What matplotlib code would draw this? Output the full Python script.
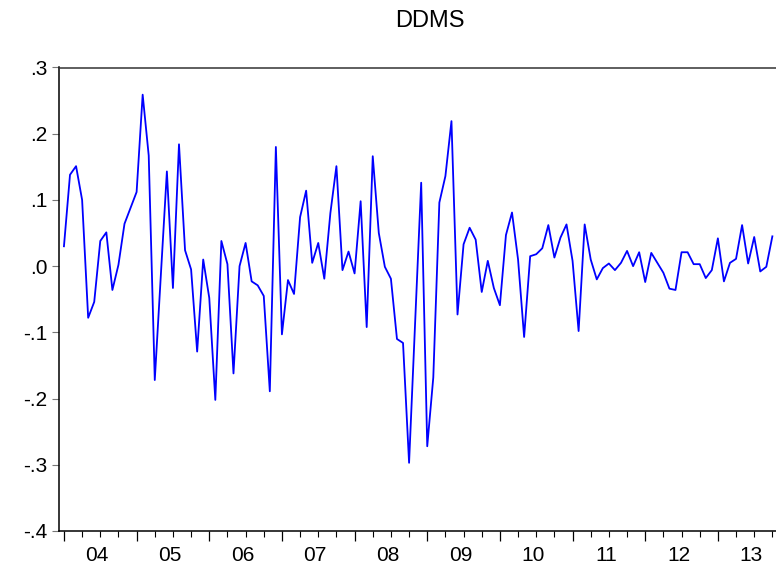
import matplotlib
matplotlib.use("Agg")
import matplotlib.pyplot as plt
import matplotlib.transforms as mtransforms

# monthly values, 2004M01 onwards
ddms = [0.030, 0.138, 0.151, 0.100, -0.078, -0.054, 0.038, 0.051, -0.036, 0.002, 0.064, 0.088,
        0.112, 0.259, 0.167, -0.172, -0.014, 0.143, -0.033, 0.184, 0.024, -0.005, -0.129, 0.010,
        -0.048, -0.202, 0.038, 0.003, -0.162, 0.000, 0.035, -0.023, -0.029, -0.045, -0.189, 0.180,
        -0.103, -0.021, -0.042, 0.074, 0.114, 0.005, 0.035, -0.019, 0.080, 0.151, -0.006, 0.022,
        -0.011, 0.098, -0.092, 0.166, 0.050, -0.001, -0.019, -0.110, -0.116, -0.297, -0.085, 0.126,
        -0.272, -0.168, 0.096, 0.136, 0.219, -0.073, 0.033, 0.058, 0.040, -0.039, 0.008, -0.033,
        -0.059, 0.047, 0.081, 0.010, -0.107, 0.015, 0.018, 0.027, 0.062, 0.013, 0.043, 0.063,
        0.008, -0.098, 0.063, 0.010, -0.020, -0.003, 0.004, -0.006, 0.005, 0.023, 0.000, 0.021,
        -0.024, 0.020, 0.005, -0.010, -0.034, -0.036, 0.021, 0.021, 0.003, 0.003, -0.018, -0.006,
        0.042, -0.023, 0.005, 0.011, 0.062, 0.004, 0.044, -0.008, -0.001, 0.045]
years = ["04", "05", "06", "07", "08", "09", "10", "11", "12", "13"]
yticks = [0.3, 0.2, 0.1, 0.0, -0.1, -0.2, -0.3, -0.4]
ylabels = [".3", ".2", ".1", ".0", "-.1", "-.2", "-.3", "-.4"]

plt.rcParams['font.family'] = ['Liberation Sans', 'DejaVu Sans']

fig = plt.figure(figsize=(7.76, 5.69), dpi=100)
ax = fig.add_axes([58.5 / 776, 38 / 569, 1 - 58.5 / 776, 463.5 / 569])

ax.plot(range(len(ddms)), ddms, color="#0000ff", lw=1.3)

ax.set_xlim(-0.9, 117.6)
ax.set_ylim(-0.4, 0.3)

ax.spines['right'].set_visible(False)
for s in ['left', 'bottom', 'top']:
    ax.spines[s].set_linewidth(1.1)
ax.spines['top'].set_color("#333333")

ax.set_yticks(yticks, ylabels)
ax.tick_params(axis='y', length=5, width=0.8, color="#777777", labelsize=15, pad=3)

ax.set_xticks([12 * k for k in range(len(years))], [""] * len(years))
ax.set_xticks([12 * k + q for k in range(len(years)) for q in (3, 6, 9)], minor=True)
ax.tick_params(axis='x', which='major', length=7, width=0.9)
ax.tick_params(axis='x', which='minor', length=4, width=0.8)

trans = mtransforms.blended_transform_factory(ax.transData, ax.transAxes)
for k, yr in enumerate(years):
    ax.text(12 * k + 5.5, -0.053, yr, transform=trans, ha='center', va='center', fontsize=15)

fig.text(430 / 776, 1 - 21 / 569, "DDMS", ha='center', va='center', fontsize=17)

fig.savefig("out.png", dpi=100)
